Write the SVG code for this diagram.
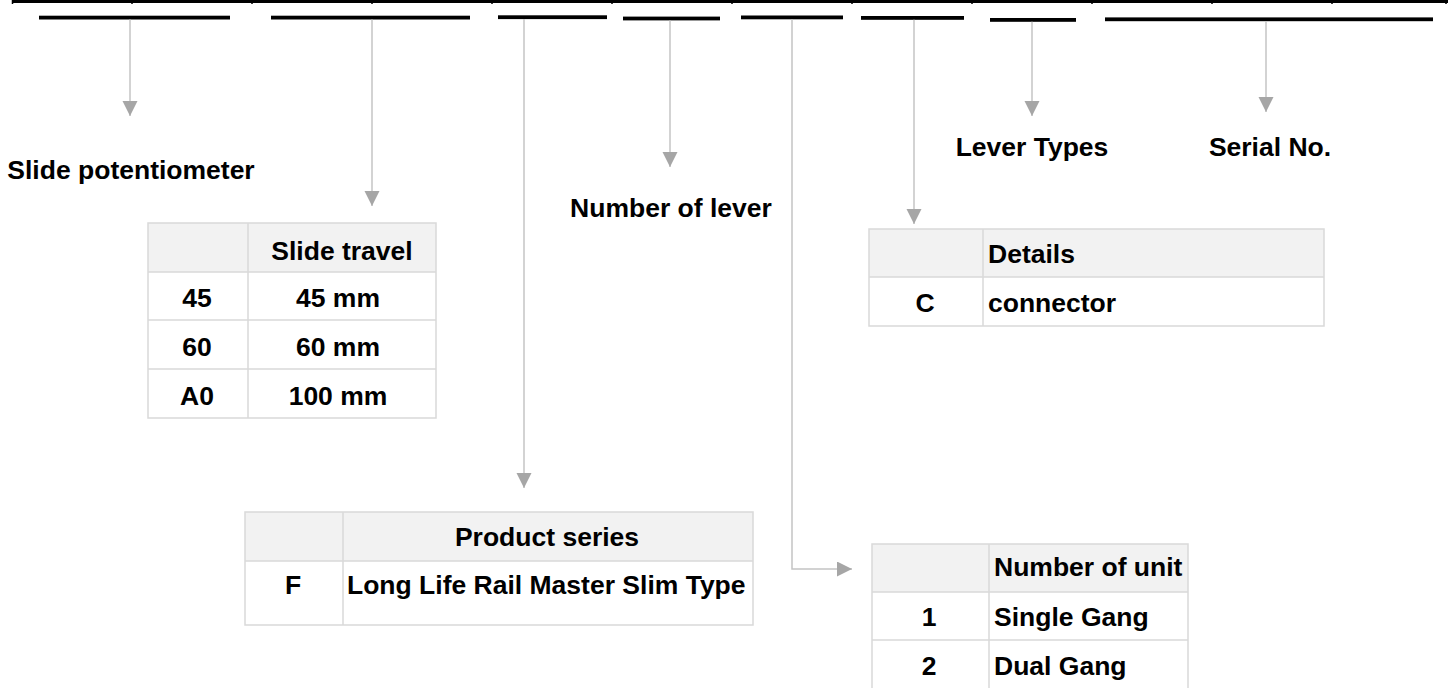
<svg xmlns="http://www.w3.org/2000/svg" width="1448" height="688" viewBox="0 0 1448 688">
<style>
text{font-family:"Liberation Sans",Arial,sans-serif;font-weight:bold;font-size:26.5px;fill:#000}
.m{text-anchor:middle}
.bar{fill:#000}
.conn{fill:none;stroke:#c4c4c4;stroke-width:1.5}
.grid{fill:none;stroke:#d9d9d9;stroke-width:1.5}
.hdr{fill:#f2f2f2}
</style>
<defs>
<marker id="ah" markerUnits="userSpaceOnUse" markerWidth="16" markerHeight="16" refX="15" refY="7.5" orient="auto">
<path d="M0,0 L15,7.5 L0,15 Z" fill="#a6a6a6"/>
</marker>
</defs>
<rect width="1448" height="688" fill="#fff"/>
<g id="top-strip">
<rect x="12" y="0" width="1436" height="3" fill="#000"/>
<path d="M12.5,0V4 M132,0V4 M252,0V4 M372,0V4 M492,0V4 M612,0V4 M732,0V4 M852,0V4 M972,0V4 M1092,0V4 M1212,0V4 M1332,0V4 M1446,0V4" stroke="#000" stroke-width="1.5"/>
</g>
<g id="bars">
<rect class="bar" x="39" y="15.7" width="191" height="3.8"/>
<rect class="bar" x="271" y="15.7" width="199" height="3.8"/>
<rect class="bar" x="498" y="15.3" width="109" height="3.8"/>
<rect class="bar" x="623" y="16.6" width="97" height="3.8"/>
<rect class="bar" x="741" y="15.5" width="102" height="3.8"/>
<rect class="bar" x="861" y="16" width="103" height="3.8"/>
<rect class="bar" x="990" y="18" width="86" height="3.8"/>
<rect class="bar" x="1105" y="17.4" width="328" height="3.8"/>
</g>
<g id="connectors">
<path class="conn" d="M130,19.5V116" marker-end="url(#ah)"/>
<path class="conn" d="M372,19.5V206" marker-end="url(#ah)"/>
<path class="conn" d="M524,19V488" marker-end="url(#ah)"/>
<path class="conn" d="M670,20.4V167" marker-end="url(#ah)"/>
<path class="conn" d="M792,19.3V569H852" marker-end="url(#ah)"/>
<path class="conn" d="M914,19.8V224" marker-end="url(#ah)"/>
<path class="conn" d="M1032,21.8V116" marker-end="url(#ah)"/>
<path class="conn" d="M1266,21.2V112" marker-end="url(#ah)"/>
</g>
<g id="label-slide-potentiometer"><text class="m" x="131" y="179">Slide potentiometer</text></g>
<g id="label-number-of-lever"><text class="m" x="671" y="217">Number of lever</text></g>
<g id="label-lever-types"><text class="m" x="1032" y="156">Lever Types</text></g>
<g id="label-serial-no"><text class="m" x="1270" y="156">Serial No.</text></g>
<g id="table-slide-travel">
<rect class="hdr" x="148" y="223" width="288" height="49"/>
<path class="grid" d="M148,223H436V418H148Z M248,223V418 M148,272H436 M148,320H436 M148,369H436"/>
<text class="m" x="342" y="260">Slide travel</text>
<text class="m" x="197" y="307">45</text><text class="m" x="338" y="307">45 mm</text>
<text class="m" x="197" y="356">60</text><text class="m" x="338" y="356">60 mm</text>
<text class="m" x="197" y="405">A0</text><text class="m" x="338" y="405">100 mm</text>
</g>
<g id="table-product-series">
<rect class="hdr" x="245" y="512" width="508" height="49"/>
<path class="grid" d="M245,512H753V625H245Z M343,512V625 M245,561H753"/>
<text class="m" x="547" y="546">Product series</text>
<text class="m" x="293" y="594">F</text>
<text x="347" y="594">Long Life Rail Master Slim Type</text>
</g>
<g id="table-details">
<rect class="hdr" x="869" y="229" width="455" height="48"/>
<path class="grid" d="M869,229H1324V326H869Z M983,229V326 M869,277H1324"/>
<text x="988" y="263">Details</text>
<text class="m" x="925" y="312">C</text>
<text x="988" y="312">connector</text>
</g>
<g id="table-number-of-unit">
<rect class="hdr" x="872" y="544" width="316" height="48"/>
<path class="grid" d="M872,689V544H1188V689 M989,544V689 M872,592H1188 M872,640H1188"/>
<text x="994" y="576">Number of unit</text>
<text class="m" x="929" y="626">1</text><text x="994" y="626">Single Gang</text>
<text class="m" x="929" y="675">2</text><text x="994" y="675">Dual Gang</text>
</g>
</svg>
